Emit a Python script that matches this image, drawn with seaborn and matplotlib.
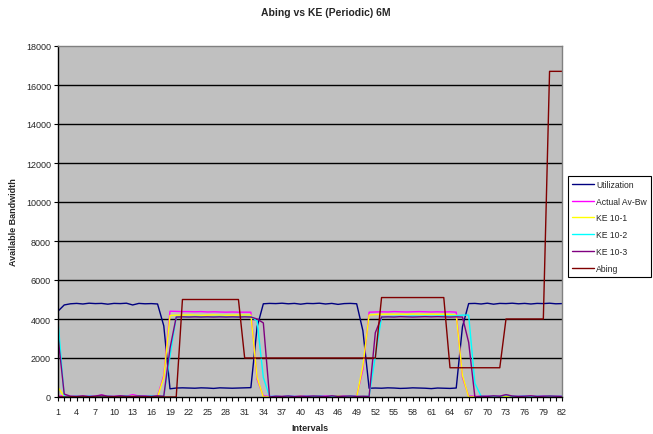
import numpy as np
import pandas as pd
import matplotlib
matplotlib.use("Agg")
import matplotlib.pyplot as plt
import seaborn as sns
from matplotlib.ticker import MultipleLocator

intervals = list(range(1, 83))

utilization = [
    4400, 4720, 4780, 4800, 4770, 4810, 4790, 4800, 4760, 4800,
    4790, 4810, 4720, 4800, 4780, 4790, 4770, 3650, 420, 460,
    470, 460, 450, 470, 460, 440, 470, 460, 450, 460,
    470, 480, 3600, 4780, 4800, 4790, 4810, 4780, 4800, 4760,
    4800, 4790, 4810, 4770, 4800, 4750, 4790, 4800, 4780, 3400,
    450, 460, 450, 470, 460, 440, 450, 470, 460, 450,
    430, 460, 450, 440, 460, 3600, 4790, 4800, 4770, 4810,
    4760, 4800, 4790, 4810, 4780, 4800, 4770, 4800, 4790, 4810,
    4780, 4790,
]

actual_avbw = [
    50, 60, 30, 40, 20, 60, 30, 100, 40, 30,
    60, 40, 120, 50, 60, 40, 50, 1100, 4400, 4390,
    4380, 4380, 4370, 4380, 4360, 4370, 4360, 4350, 4360, 4350,
    4350, 4350, 900, 50, 30, 40, 20, 60, 30, 40,
    50, 30, 40, 60, 30, 50, 40, 30, 50, 1400,
    4350, 4360, 4370, 4360, 4380, 4370, 4360, 4370, 4380, 4370,
    4360, 4370, 4360, 4370, 4350, 1000, 50, 40, 30, 60,
    40, 50, 100, 40, 30, 60, 40, 30, 50, 40,
    30, 40,
]

ke_10_1 = [
    500, 20, 10, 0, 20, 10, 0, 30, 10, 0,
    20, 10, 40, 0, 10, 20, 0, 1000, 4180, 4200,
    4200, 4210, 4200, 4190, 4200, 4210, 4200, 4190, 4200, 4200,
    4200, 4200, 1000, 0, 10, 0, 20, 0, 10, 30,
    0, 10, 0, 20, 0, 60, 0, 10, 0, 1600,
    4200, 4230, 4240, 4250, 4240, 4250, 4240, 4250, 4250, 4240,
    4250, 4240, 4250, 4230, 4200, 1100, 0, 10, 0, 20,
    0, 10, 30, 0, 10, 0, 20, 0, 10, 0,
    10, 0,
]

ke_10_2 = [
    3900, 30, 20, 40, 10, 50, 20, 30, 40, 20,
    30, 50, 20, 40, 30, 60, 20, 40, 2100, 4100,
    4120, 4110, 4130, 4120, 4110, 4120, 4130, 4120, 4110, 4120,
    4130, 4120, 3900, 1000, 30, 40, 20, 50, 30, 20,
    40, 30, 50, 20, 40, 30, 20, 50, 30, 20,
    40, 2100, 4100, 4120, 4130, 4140, 4130, 4150, 4140, 4150,
    4140, 4150, 4160, 4150, 4160, 4200, 4200, 700, 40, 30,
    50, 30, 100, 40, 30, 50, 20, 40, 30, 50,
    30, 40,
]

ke_10_3 = [
    3100, 150, 40, 30, 60, 20, 50, 100, 40, 30,
    60, 40, 30, 50, 40, 30, 60, 40, 2500, 4100,
    4110, 4100, 4110, 4100, 4110, 4100, 4110, 4100, 4110, 4100,
    4110, 4100, 4000, 3800, 0, 40, 30, 50, 20, 40,
    30, 50, 40, 20, 60, 30, 40, 50, 30, 40,
    30, 3300, 4100, 4110, 4100, 4120, 4110, 4100, 4110, 4120,
    4110, 4120, 4110, 4100, 4110, 4100, 2800, 0, 40, 30,
    60, 40, 120, 50, 30, 40, 60, 30, 40, 50,
    40, 30,
]

abing = [
    0, 0, 0, 0, 0, 0, 0, 0, 0, 0,
    0, 0, 0, 0, 0, 0, 0, 0, 0, 0,
    5000, 5000, 5000, 5000, 5000, 5000, 5000, 5000, 5000, 5000,
    2000, 2000, 2000, 2000, 2000, 2000, 2000, 2000, 2000, 2000,
    2000, 2000, 2000, 2000, 2000, 2000, 2000, 2000, 2000, 2000,
    2000, 2000, 5100, 5100, 5100, 5100, 5100, 5100, 5100, 5100,
    5100, 5100, 5100, 1500, 1500, 1500, 1500, 1500, 1500, 1500,
    1500, 1500, 4000, 4000, 4000, 4000, 4000, 4000, 4000, 16700,
    16700, 16700,
]

series_names = ["Utilization", "Actual Av-Bw", "KE 10-1", "KE 10-2", "KE 10-3", "Abing"]
series_values = [utilization, actual_avbw, ke_10_1, ke_10_2, ke_10_3, abing]
series_colors = ["#000080", "#FF00FF", "#FFFF00", "#00FFFF", "#800080", "#800000"]

title = "Abing vs KE (Periodic) 6M"
xlabel = "Intervals"
ylabel = "Available Bandwidth"
xtick_labels = list(range(1, 83, 3))
ytick_values = list(range(0, 18001, 2000))

df = pd.concat(
    [pd.DataFrame({"Interval": intervals, "Value": v, "Series": n})
     for n, v in zip(series_names, series_values)],
    ignore_index=True,
)

sns.set_theme(style="white")
plt.rcParams["font.family"] = ["Liberation Sans", "DejaVu Sans"]

fig = plt.figure(figsize=(6.53, 4.35), dpi=100)
ax = fig.add_axes([58 / 653, 1 - 398 / 435, (562 - 58) / 653, (398 - 47) / 435])
ax.set_facecolor("#C0C0C0")

sns.lineplot(
    data=df, x="Interval", y="Value", hue="Series",
    hue_order=series_names, palette=dict(zip(series_names, series_colors)),
    linewidth=1.0, ax=ax, legend=True,
)

ax.set_xlim(1, 82)
ax.set_ylim(0, 18000)
ax.set_yticks(ytick_values)
ax.set_yticklabels([str(v) for v in ytick_values], fontsize=6.5)
ax.set_xticks(xtick_labels)
ax.set_xticklabels([str(v) for v in xtick_labels], fontsize=6.5)
ax.xaxis.set_minor_locator(MultipleLocator(1))
ax.tick_params(axis="both", which="both", direction="out", color="black",
               length=3, width=0.8, bottom=True, left=True)
ax.tick_params(axis="x", which="both", pad=4)
ax.tick_params(axis="y", which="both", pad=2)

for y in ytick_values[1:-1]:
    ax.axhline(y, color="black", linewidth=1.0, zorder=0.5)

for s in ["top", "right"]:
    ax.spines[s].set_color("#808080")
    ax.spines[s].set_linewidth(1.0)
for s in ["left", "bottom"]:
    ax.spines[s].set_color("black")
    ax.spines[s].set_linewidth(1.0)

ax.set_xlabel(xlabel, fontsize=6.5, fontweight="bold", labelpad=5)
ax.set_ylabel(ylabel, fontsize=6.5, fontweight="bold", labelpad=6)
fig.text(326 / 653, 1 - 13 / 435, title, ha="center", va="center",
         fontsize=7.5, fontweight="bold")

handles, labels = ax.get_legend_handles_labels()
ax.get_legend().remove()
leg = fig.legend(handles, labels, loc="upper left",
                 bbox_to_anchor=(568 / 653, 1 - 177 / 435),
                 fontsize=6.2, frameon=True, fancybox=False,
                 edgecolor="black", facecolor="white", framealpha=1,
                 handlelength=2.6, handletextpad=0.25, borderpad=0.45,
                 labelspacing=0.9, borderaxespad=0)
leg.get_frame().set_linewidth(0.8)

fig.savefig("out.png", dpi=100)
